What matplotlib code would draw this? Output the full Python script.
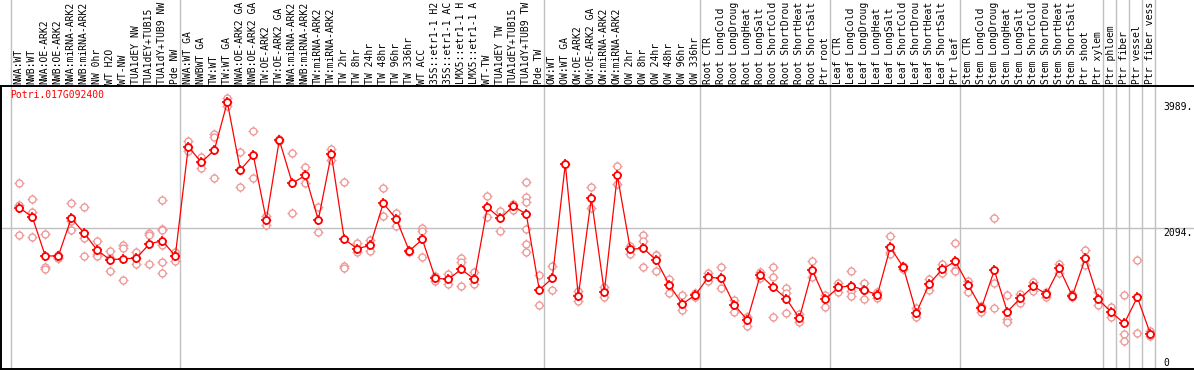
import matplotlib
matplotlib.use("Agg")
import matplotlib.pyplot as plt
import matplotlib.transforms as mtransforms
import numpy as np

# --- data ---
gene = "Potri.017G092400"

labels = [
    "NWA:WT", "NWB:WT", "NWA:OE-ARK2", "NWB:OE-ARK2", "NWA:miRNA-ARK2", "NWB:miRNA-ARK2",
    "NW 0hr", "WT H2O", "WT-NW", "TUA1dEY NW", "TUA1dEY+TUB15", "TUA1dY+TUB9 NW", "Pde NW",
    "NWA:WT GA", "NWBWT GA", "TW:WT", "TW:WT GA", "NWA:OE-ARK2 GA", "NWB:OE-ARK2 GA",
    "TW:OE-ARK2", "TW:OE-ARK2 GA", "NWA:miRNA-ARK2", "NWB:miRNA-ARK2", "TW:miRNA-ARK2",
    "TW:miRNA-ARK2", "TW 2hr", "TW 8hr", "TW 24hr", "TW 48hr", "TW 96hr", "TW 336hr",
    "WT ACC", "35S::etr1-1 H2", "35S::etr1-1 AC", "LMX5::etr1-1 H", "LMX5::etr1-1 A",
    "WT-TW", "TUA1dEY TW", "TUA1dEY+TUB15", "TUA1dY+TUB9 TW", "Pde TW",
    "OW:WT", "OW:WT GA", "OW:OE-ARK2", "OW:OE-ARK2 GA", "OW:miRNA-ARK2", "OW:miRNA-ARK2",
    "OW 2hr", "OW 8hr", "OW 24hr", "OW 48hr", "OW 96hr", "OW 336hr",
    "Root CTR", "Root LongCold", "Root LongDroug", "Root LongHeat", "Root LongSalt",
    "Root ShortCold", "Root ShortDrou", "Root ShortHeat", "Root ShortSalt", "Ptr root",
    "Leaf CTR", "Leaf LongCold", "Leaf LongDroug", "Leaf LongHeat", "Leaf LongSalt",
    "Leaf ShortCold", "Leaf ShortDrou", "Leaf ShortHeat", "Leaf ShortSalt", "Ptr leaf",
    "Stem CTR", "Stem LongCold", "Stem LongDroug", "Stem LongHeat", "Stem LongSalt",
    "Stem ShortCold", "Stem ShortDrou", "Stem ShortHeat", "Stem ShortSalt", "Ptr shoot",
    "Ptr xylem", "Ptr phloem", "Ptr fiber", "Ptr vessel", "Ptr fiber vess",
]

means = [
    2404, 2264, 1679, 1679, 2245, 2020, 1764, 1619, 1638, 1644, 1859, 1908, 1679,
    3320, 3086, 3266, 3989, 2970, 3191, 2219, 3420, 2770, 2890, 2219, 3206, 1929, 1788,
    1839, 2470, 2234, 1754, 1929, 1344, 1329, 1479, 1329, 2410, 2245, 2429, 2305, 1168,
    1344, 3060, 1078, 2545, 1138, 2890, 1779, 1794, 1614, 1243, 958, 1093,
    1359, 1344, 943, 718, 1393, 1209, 1038, 743, 1464, 1029,
    1209, 1228, 1168, 1093, 1809, 1509, 827, 1263, 1479, 1599,
    1243, 893, 1464, 842, 1044, 1224, 1108, 1494, 1078, 1644, 1029,
    833, 668, 1059, 512,
]

replicates = [
    [2770, 2444, 1994], [2535, 2335, 1964], [2009, 1509, 1488], [1694, 1653, 1649],
    [2470, 2204, 2074], [2410, 1944, 1679], [1904, 1713, 1683], [1754, 1653, 1449],
    [1848, 1794, 1314], [1739, 1644, 1554], [2029, 1994, 1554],
    [2515, 2089, 2069, 1844, 1584, 1423], [1743, 1679, 1604],
    [3405, 3320, 3255], [3170, 3086, 3000], [3506, 3465, 2845], [4056, 3989, 3935],
    [3236, 2970, 2710], [3551, 2845], [2284, 2219, 2149], [3430, 3410], [3221, 2320],
    [3011, 2770], [2419, 2035], [3285, 3120], [2790, 1529, 1494], [1869, 1739],
    [1923, 1758], [2700, 2284], [2320, 2134], [1769, 1739], [2095, 2059, 1664],
    [1378, 1308], [1413, 1254], [1653, 1589, 1224], [1438, 1254], [2575, 2269],
    [2359, 2054], [2464, 2365], [2785, 2565, 2494, 2080, 1859, 1734], [1393, 943],
    [1524, 1164], [3060], [1153, 1008], [2710, 2404], [1209, 1059], [3030, 2755],
    [1829, 1709], [1994, 1904, 1514], [1694, 1694, 1449], [1333, 1123], [1089, 868],
    [1128, 1068],
    [1428, 1308], [1514, 1194], [1018, 842], [767, 755, 632], [1443, 1353],
    [1514, 1359, 758], [1194, 1119, 818], [808, 692], [1599, 1368], [1098, 908],
    [1278, 1134], [1449, 1149, 1083], [1278, 1168, 1029], [1143, 1044],
    [1979, 1740, 1709], [1529, 1488], [893, 758], [1329, 1168], [1559, 1419],
    [1869, 1468, 1460],
    [1308, 1134], [928, 842], [2245, 1269, 893], [1089, 728, 683], [1108, 968],
    [1293, 1153], [1143, 1068], [1559, 1419], [1108, 1059], [1764, 1544], [1138, 938],
    [913, 768], [1089, 503, 407], [1614, 518], [557, 477],
]

# column index where each group starts
group_starts = [0, 13, 41, 53, 63, 73, 84, 85, 86, 87, 88]
ytick_values = [3989, 2094, 0]
ytick_texts = ["3989.", "2094.", "0"]


def main():
    W, H = 1194, 370
    fig = plt.figure(figsize=(W / 100, H / 100), dpi=100)
    # plot box in pixels: top 86, bottom 368.7
    ax = fig.add_axes([0.5 / W, (H - 368.7) / H, 1 - 0.5 / W, (368.7 - 86) / H])

    mono = "DejaVu Sans Mono"
    grey = "#c0c0c0"
    pink = "#ee9a9a"
    red = "#ff0000"

    x = np.arange(len(labels))
    ax.set_xlim(-1.446, 90.36)
    ax.set_ylim(-14, 4231)
    ax.set_xticks([])
    ax.set_yticks([])
    for side in ["left", "top", "bottom"]:
        ax.spines[side].set_linewidth(1.4)
        ax.spines[side].set_color("black")
    ax.spines["right"].set_visible(False)

    # group separators run through the label strip too
    trans = mtransforms.blended_transform_factory(ax.transData, fig.transFigure)
    for g in group_starts:
        ax.plot([g - 0.62, g - 0.62], [0, 1], transform=trans, color=grey,
                lw=1.0, clip_on=False, zorder=0)
    ax.axhline(2094, color=grey, lw=1.0, zorder=0)

    # column labels, rotated, reading upward from just above the plot box
    y_lab = (H - 84) / H
    for i, lab in enumerate(labels):
        ax.text(i - 0.05, y_lab, lab, transform=trans, rotation=90, ha="center",
                va="bottom", fontsize=7, family=mono, color="black", clip_on=False)

    # replicates
    rx = np.concatenate([[i] * len(r) for i, r in enumerate(replicates)])
    ry = np.concatenate(replicates)
    ax.plot(rx, ry, ls="none", marker="+", ms=7, mew=1.0, color=pink, zorder=2)
    ax.plot(rx, ry, ls="none", marker="o", ms=5, mew=1.0, mfc="white", mec=pink, zorder=2)

    # means
    ax.plot(x, means, color=red, lw=0.9, zorder=3)
    ax.plot(x, means, ls="none", marker="+", ms=7, mew=1.2, color=red, zorder=4)
    ax.plot(x, means, ls="none", marker="o", ms=5, mew=1.3, mfc="white", mec=red, zorder=5)

    # gene name
    ax.text(0.008, 0.985, gene, transform=ax.transAxes, ha="left", va="top",
            fontsize=7, family=mono, color=red)

    # value labels on the right
    for v, t in zip(ytick_values, ytick_texts):
        ax.text(88.0, v, t, ha="left", va="bottom" if v == 0 else "top",
                fontsize=7, family=mono, color="black")

    fig.savefig("out.png", dpi=100)


if __name__ == "__main__":
    main()
